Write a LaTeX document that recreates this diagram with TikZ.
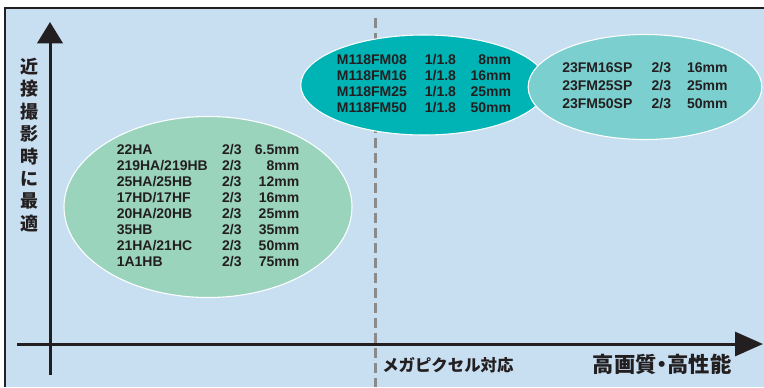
\documentclass[tikz,border=0pt]{standalone}
\usepackage{fontspec}
\setmainfont{Liberation Sans}
\newfontfamily\jpfont{Noto Sans CJK JP}
\usetikzlibrary{positioning,shapes.geometric,arrows.meta}
\definecolor{bgblue}{HTML}{C8DFF2}
\definecolor{lensgreen}{HTML}{9AD4BD}
\definecolor{lensteal}{HTML}{00B3B5}
\definecolor{lenslight}{HTML}{7BCFCF}
\definecolor{dashgray}{HTML}{8A8A8A}
\definecolor{inkdark}{HTML}{231F20}

\begin{document}
\begin{tikzpicture}[
        x=0.75pt, y=-0.75pt,
        lensnode/.style={ellipse, draw=white, line width=0.8pt, inner sep=0pt, text=inkdark,
            font=\fontsize{10.5}{12}\selectfont\bfseries},
        axisline/.style={draw=inkdark, line width=2.25pt},
        labelnode/.style={inner sep=0pt, text=inkdark, font=\jpfont\bfseries},
        ]
        \useasboundingbox (0,0) rectangle (764,387);
        \fill[bgblue] (5,8) rectangle (764,387);
        \draw[inkdark, line width=1pt] (5,387) -- (5,8) -- (764,8);

        %Axes
        \coordinate (ys) at (50,375);
        \coordinate (ye) at (50,22);
        \coordinate (xs) at (17,344);
        \coordinate (xe) at (763,344);
        \draw[axisline, -{Triangle[length=16pt, width=19pt]}] (ys) -- (ye);
        \draw[axisline, -{Triangle[length=21pt, width=18pt]}] (xs) -- (xe);

        \coordinate (dtop) at (375,18);
        \coordinate (dbot) at (375,387);
        \draw[dashgray, line width=2.25pt, dash pattern=on 7.5pt off 3.75pt] (dtop) -- (dbot);

        %Nodes
        \node[lensnode, fill=lensgreen, minimum width=216pt, minimum height=133.5pt] (close) at (208,207) {%
            \begin{tabular}{@{}p{79pt}@{}l@{\hspace{10pt}}r@{}}
            22HA & 2/3 & 6.5mm\\
            219HA/219HB & 2/3 & 8mm\\
            25HA/25HB & 2/3 & 12mm\\
            17HD/17HF & 2/3 & 16mm\\
            20HA/20HB & 2/3 & 25mm\\
            35HB & 2/3 & 35mm\\
            21HA/21HC & 2/3 & 50mm\\
            1A1HB & 2/3 & 75mm
            \end{tabular}};
        \node[lensnode, fill=lensteal, minimum width=181.5pt, minimum height=75pt] (mega) at (424,85) {%
            \begin{tabular}{@{}p{66pt}@{}l@{\hspace{11pt}}r@{}}
            M118FM08 & 1/1.8 & 8mm\\
            M118FM16 & 1/1.8 & 16mm\\
            M118FM25 & 1/1.8 & 25mm\\
            M118FM50 & 1/1.8 & 50mm
            \end{tabular}};
        \node[lensnode, fill=lenslight, minimum width=171pt, minimum height=78.75pt,
            font=\fontsize{10.5}{13.5}\selectfont\bfseries] (highres) at (645,87) {%
            \begin{tabular}{@{}p{67pt}@{}l@{\hspace{12pt}}r@{}}
            23FM16SP & 2/3 & 16mm\\
            23FM25SP & 2/3 & 25mm\\
            23FM50SP & 2/3 & 50mm
            \end{tabular}};

        \node[labelnode, align=center, font=\jpfont\bfseries\fontsize{13.5}{16.8}\selectfont] (ylabel) at (29,145)
            {近\\接\\撮\\影\\時\\に\\最\\適};
        \node[labelnode, anchor=west, font=\jpfont\bfseries\fontsize{12.3}{14}\selectfont] (megalabel) at (382,365) {メガピクセル対応};
        \node[labelnode, font=\jpfont\bfseries\fontsize{16}{18}\selectfont] (xlabel) at (662,364) {高画質\kern-4pt・\kern-4pt高性能};
    \end{tikzpicture}
\end{document}
